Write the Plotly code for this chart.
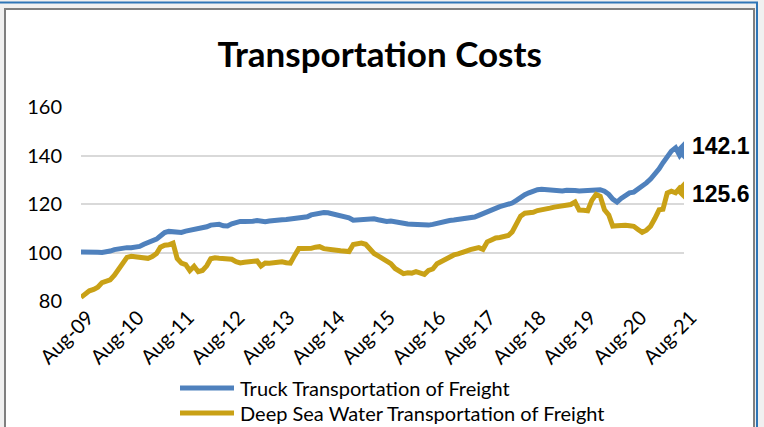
import pandas as pd
import plotly.graph_objects as go

# monthly index values, Aug-09 .. Aug-21
months = pd.date_range("2009-08-01", "2021-08-01", freq="MS")

truck = [
    100.2, 100.3, 100.0, 100.2, 100.1, 100.0, 100.2, 100.6, 101.2, 101.6, 101.9, 102.0,
    102.0, 102.1, 102.5, 103.4, 104.0, 104.4, 105.5, 106.8, 108.2, 108.7, 108.4, 108.2,
    108.3, 108.8, 109.1, 109.4, 109.7, 110.2, 110.6, 111.3, 111.7, 111.6, 111.0, 110.9,
    111.8, 112.5, 112.8, 112.8, 112.7, 112.9, 113.2, 112.9, 112.7, 113.0, 113.3, 113.3,
    113.5, 113.6, 113.8, 113.9, 114.2, 114.4, 114.7, 115.5, 116.0, 116.2, 116.5, 116.4,
    116.0, 115.6, 115.4, 115.2, 114.3, 113.3, 113.5, 113.6, 114.0, 114.1, 113.9, 113.5,
    113.0, 112.8, 113.0, 112.6, 112.4, 111.9, 111.8, 111.7, 111.5, 111.2, 111.2, 111.3,
    111.6, 112.1, 112.6, 113.0, 113.2, 113.4, 113.6, 113.8, 114.0, 114.2, 114.6, 115.3,
    116.1, 116.8, 117.6, 118.3, 118.9, 119.4, 119.9, 120.4, 121.5, 122.8, 123.8, 124.6,
    125.3, 125.9, 126.1, 126.0, 125.8, 125.5, 125.3, 125.4, 125.7, 125.9, 125.6, 125.4,
    125.6, 125.7, 125.9, 126.1, 125.9, 125.3, 124.0, 122.0, 120.8, 122.3, 123.8, 124.6,
    124.9, 126.0, 127.5, 128.7, 130.3, 132.2, 134.5, 137.0, 139.6, 141.8, 143.2, 140.0,
    142.1,
]

sea = [
    81.5, 83.0, 84.2, 84.8, 85.7, 87.6, 88.3, 88.7, 90.6, 93.0, 95.6, 98.0,
    98.4, 98.2, 97.8, 97.4, 97.6, 98.3, 99.6, 102.2, 103.0, 103.2, 103.9, 97.5,
    95.6, 95.0, 92.5, 94.3, 92.1, 92.6, 94.5, 97.4, 97.8, 97.6, 97.4, 97.6,
    97.2, 96.2, 95.7, 96.0, 96.3, 96.4, 96.5, 94.4, 95.7, 95.6, 95.8, 96.0,
    96.2, 95.8, 95.6, 98.8, 101.6, 101.6, 101.4, 101.7, 102.2, 102.4, 101.6, 101.2,
    101.0, 100.9, 100.7, 100.5, 100.4, 103.3, 103.8, 103.9, 103.4, 101.2, 99.6, 98.6,
    97.5, 96.6, 95.4, 93.4, 92.2, 91.3, 91.6, 91.5, 92.1, 91.4, 91.0, 92.6,
    93.2, 95.4, 96.4, 97.3, 98.2, 99.0, 99.4, 100.2, 100.6, 101.2, 101.8, 102.0,
    101.3, 104.4, 105.2, 106.0, 106.2, 106.5, 107.0, 108.5, 112.0, 115.0, 116.2, 116.3,
    116.6, 117.3, 117.5, 118.0, 118.3, 118.7, 119.0, 119.3, 119.6, 119.8, 120.8, 117.5,
    117.4, 117.2, 121.5, 124.0, 123.2, 117.6, 115.5, 110.9, 111.0, 111.2, 111.2, 111.0,
    110.8, 109.5, 108.3, 109.2, 110.8, 114.0, 117.6, 117.8, 124.5, 125.3, 124.6, 126.6,
    125.6,
]

tick_vals = months[::12]
tick_text = ["Aug-09", "Aug-10", "Aug-11", "Aug-12", "Aug-13", "Aug-14", "Aug-15",
             "Aug-16", "Aug-17", "Aug-18", "Aug-19", "Aug-20", "Aug-21"]

names = ["Truck Transportation of Freight", "Deep Sea Water Transportation of Freight"]
colors = ["#4f81bd", "#c9a116"]
label_shift = [4, -4]

W, H = 764, 427
L, R, T, B = 81, 80, 107, 126

# pixel -> paper coordinates (for the frame and the hand made legend)
def px(x):
    return (x - L) / (W - L - R)

def py(y):
    return (H - B - y) / (H - T - B)

fig = go.Figure()
for vals, name, col, ys in [(truck, names[0], colors[0], label_shift[0]),
                            (sea, names[1], colors[1], label_shift[1])]:
    fig.add_trace(go.Scatter(x=months, y=vals, name=name, mode="lines",
                             line=dict(color=col, width=5)))
    # diamond + label at the last value
    fig.add_trace(go.Scatter(x=[months[-1]], y=[vals[-1]], mode="markers",
                             marker=dict(symbol="diamond", size=14, color=col),
                             showlegend=False, hoverinfo="skip"))
    fig.add_annotation(x=months[-1], y=vals[-1], text="<b>%.1f</b>" % vals[-1],
                       showarrow=False, xanchor="left", xshift=6, yshift=ys,
                       font=dict(family="Liberation Sans", size=23, color="#000000"))

shapes = [
    # light grey background strip, outer blue frame, inner grey border
    dict(type="rect", xref="paper", yref="paper", x0=px(0), x1=px(W), y0=py(H), y1=py(0),
         fillcolor="#f0f0f0", line=dict(width=0), layer="below"),
    dict(type="rect", xref="paper", yref="paper", x0=px(5), x1=px(754), y0=py(H + 5), y1=py(9),
         fillcolor="#ffffff", line=dict(color="#7f7f7f", width=2), layer="below"),
    dict(type="line", xref="paper", yref="paper", x0=px(0), x1=px(758), y0=py(2.5), y1=py(2.5),
         line=dict(color="#2e75b6", width=2)),
    dict(type="line", xref="paper", yref="paper", x0=px(757), x1=px(757), y0=py(2), y1=py(H),
         line=dict(color="#2e75b6", width=2)),
]

# legend below the axis: long line keys like Excel draws them
legend_rows = [388, 413]
for name, col, row in zip(names, colors, legend_rows):
    shapes.append(dict(type="line", xref="paper", yref="paper",
                       x0=px(180), x1=px(234), y0=py(row), y1=py(row),
                       line=dict(color=col, width=5)))
    fig.add_annotation(xref="paper", yref="paper", x=px(238), y=py(row), text=name,
                       showarrow=False, xanchor="left", yanchor="middle",
                       font=dict(family="Lato", size=20, color="#000000"))

fig.update_layout(
    width=W, height=H,
    margin=dict(l=L, r=R, t=T, b=B, autoexpand=False),
    paper_bgcolor="#ffffff", plot_bgcolor="rgba(0,0,0,0)",
    shapes=shapes,
    title=dict(text="<b>Transportation Costs</b>", x=0.497, xanchor="center",
               y=1 - 55 / H, yanchor="middle",
               font=dict(family="Lato", size=35, color="#000000")),
    font=dict(family="Lato", color="#000000"),
    showlegend=False,
)

fig.update_xaxes(range=[months[0], months[-1]], tickvals=tick_vals, ticktext=tick_text,
                 tickangle=-45, tickfont=dict(family="Lato", size=20),
                 showgrid=False, zeroline=False, showline=False, ticklabelstandoff=0,
                 ticklabelshift=7, automargin=False)
fig.update_yaxes(range=[80, 160], dtick=20, showgrid=True, gridcolor="#d9d9d9", gridwidth=1.5,
                 zeroline=False, showline=False, tickfont=dict(family="Lato", size=20),
                 ticklabelstandoff=18, automargin=False)

# the page body has a default 8px margin; drop it so the figure sits at the corner
fig.write_html("out.html", config={"displayModeBar": False},
               post_script="document.body.style.margin = '0';")
